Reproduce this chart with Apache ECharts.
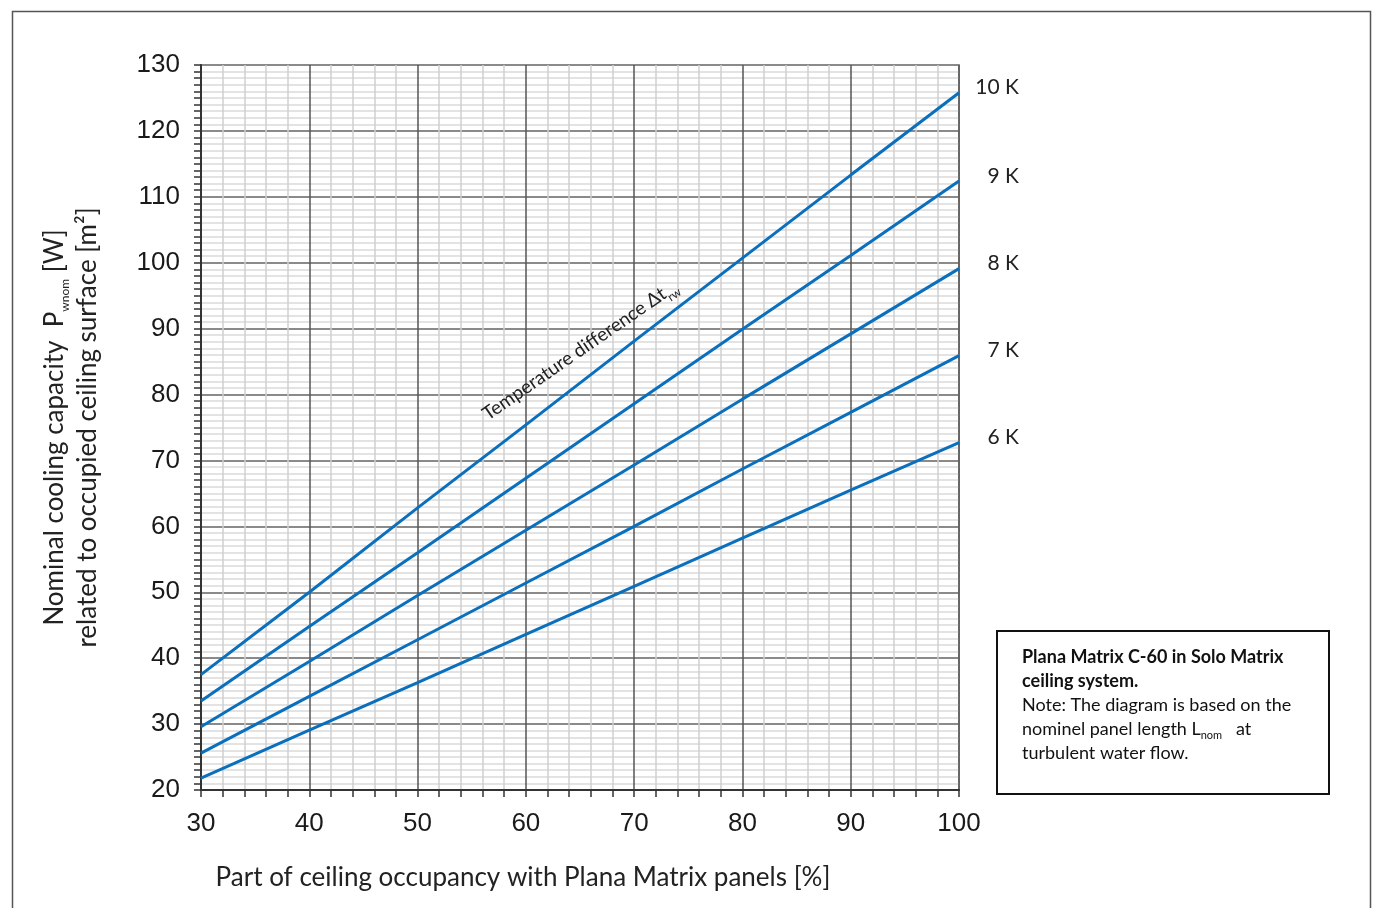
<!DOCTYPE html>
<html>
<head>
<meta charset="utf-8">
<script src="https://cdn.jsdelivr.net/npm/echarts@6/dist/echarts.min.js"></script>
<style>
  html, body { margin: 0; padding: 0; background: #fff; }
  #chart { width: 1378px; height: 908px; }
</style>
</head>
<body>
<div id="chart"></div>
<script>
// Part of ceiling occupancy [%]
const occupancy = [30, 40, 50, 60, 70, 80, 90, 100];

// Cooling capacity [W/m²] for each temperature difference
const seriesNames = ['10 K', '9 K', '8 K', '7 K', '6 K'];
const k10 = [37.5, 50.0, 62.8, 75.4, 88.1, 100.7, 113.3, 125.8];
const k9  = [33.5, 44.8, 56.0, 67.3, 78.6, 89.9, 101.1, 112.4];
const k8  = [29.6, 39.5, 49.5, 59.4, 69.3, 79.3, 89.2, 99.1];
const k7  = [25.6, 34.2, 42.8, 51.4, 60.0, 68.7, 77.3, 85.9];
const k6  = [21.8, 29.1, 36.3, 43.6, 50.9, 58.2, 65.5, 72.7];
const curves = [k10, k9, k8, k7, k6];

// Axis ranges
const xMin = 30, xMax = 100, xStep = 10;
const yMin = 20, yMax = 130, yStep = 10;

const lineBlue = '#0a6fbd';
const calibriLike = 'Lato, "Open Sans", sans-serif';
const arialLike = '"Liberation Sans", Arial, sans-serif';

const chart = echarts.init(document.getElementById('chart'), null, { renderer: 'canvas' });

const series = curves.map((vals, i) => ({
  name: seriesNames[i],
  type: 'line',
  data: occupancy.map((x, j) => [x, vals[j]]),
  symbol: 'none',
  lineStyle: { color: lineBlue, width: 3 },
  itemStyle: { color: lineBlue },
  endLabel: {
    show: true,
    formatter: '{a}',
    fontFamily: calibriLike,
    fontSize: 21,
    color: '#222',
    align: 'right',
    offset: [52, -5]
  },
  z: 5
}));

chart.setOption({
  animation: false,
  backgroundColor: '#fff',
  grid: {
    left: 201, right: 1378 - 959, top: 65, bottom: 908 - 790,
    show: true, borderColor: '#9a9a9a', borderWidth: 2, backgroundColor: 'transparent'
  },
  xAxis: {
    type: 'value', min: xMin, max: xMax, interval: xStep,
    axisLine: { show: true, onZero: false, lineStyle: { color: '#333', width: 2 } },
    axisTick: { show: true, length: 7, lineStyle: { color: '#333', width: 1.5 } },
    minorTick: { show: true, splitNumber: 5, length: 7, lineStyle: { color: '#333', width: 1.5 } },
    splitLine: { show: true, lineStyle: { color: '#555', width: 1.5 } },
    minorSplitLine: { show: true, lineStyle: { color: '#cfcfcf', width: 1.5 } },
    axisLabel: { fontFamily: arialLike, fontSize: 26, color: '#1a1a1a', margin: 21 },
    name: 'Part of ceiling occupancy with Plana Matrix panels [%]',
    nameLocation: 'middle', nameGap: 75,
    nameTextStyle: { fontFamily: calibriLike, fontSize: 26, color: '#222', padding: [0, 114, 0, 0] }
  },
  yAxis: {
    type: 'value', min: yMin, max: yMax, interval: yStep,
    axisLine: { show: true, onZero: false, lineStyle: { color: '#333', width: 2 } },
    axisTick: { show: true, length: 7, lineStyle: { color: '#333', width: 1.5 } },
    minorTick: { show: true, splitNumber: 10, length: 7, lineStyle: { color: '#333', width: 1.5 } },
    splitLine: { show: true, lineStyle: { color: '#8a8a8a', width: 2 } },
    minorSplitLine: { show: true, lineStyle: { color: '#dadada', width: 1.5 } },
    axisLabel: { fontFamily: arialLike, fontSize: 26, color: '#1a1a1a', margin: 21 },
    name: 'Nominal cooling capacity  P{sub|wnom} [W]\nrelated to occupied ceiling surface [m²]',
    nameLocation: 'middle', nameRotate: 90, nameGap: 97,
    nameTextStyle: {
      fontFamily: calibriLike, fontSize: 26, color: '#222', lineHeight: 33,
      rich: {
        sub: { fontFamily: calibriLike, fontSize: 12, color: '#222', verticalAlign: 'bottom', lineHeight: 30 }
      }
    }
  },
  series: series,
  graphic: [
    // outer frame
    {
      type: 'rect', left: 10, top: 9, z: 0,
      shape: { width: 1358, height: 920 },
      style: { fill: 'none', stroke: '#555', lineWidth: 1.5 }
    },
    // annotation along the curves
    {
      type: 'text', x: 580, y: 350, rotation: 34.6 * Math.PI / 180, z: 10,
      style: {
        text: 'Temperature difference Δt{s|rw}',
        fontFamily: calibriLike, fontSize: 19, fill: '#222',
        align: 'center', verticalAlign: 'middle',
        rich: { s: { fontFamily: calibriLike, fontSize: 12, fill: '#222', verticalAlign: 'bottom', lineHeight: 28 } }
      }
    },
    // note box
    {
      type: 'group', left: 996, top: 630, z: 10,
      children: [
        {
          type: 'rect', shape: { x: 0, y: 0, width: 332, height: 163 },
          style: { fill: '#fff', stroke: '#111', lineWidth: 2 }
        },
        {
          type: 'text', x: 25, y: 14,
          style: {
            text: '{b|Plana Matrix C-60 in Solo Matrix}\n{b|ceiling system.}\n{n|Note: The diagram is based on the}\n{n|nominel panel length L}{s|nom}{n|   at}\n{n|turbulent water flow.}',
            fontFamily: calibriLike, fontSize: 18, fill: '#111', lineHeight: 24,
            rich: {
              b: { fontFamily: calibriLike, fontSize: 18, fontWeight: 'bold', fill: '#111', lineHeight: 24 },
              n: { fontFamily: calibriLike, fontSize: 18, fill: '#111', lineHeight: 24 },
              s: { fontFamily: calibriLike, fontSize: 11, fill: '#111', lineHeight: 20, verticalAlign: 'bottom' }
            }
          }
        }
      ]
    }
  ]
});
</script>
</body>
</html>
